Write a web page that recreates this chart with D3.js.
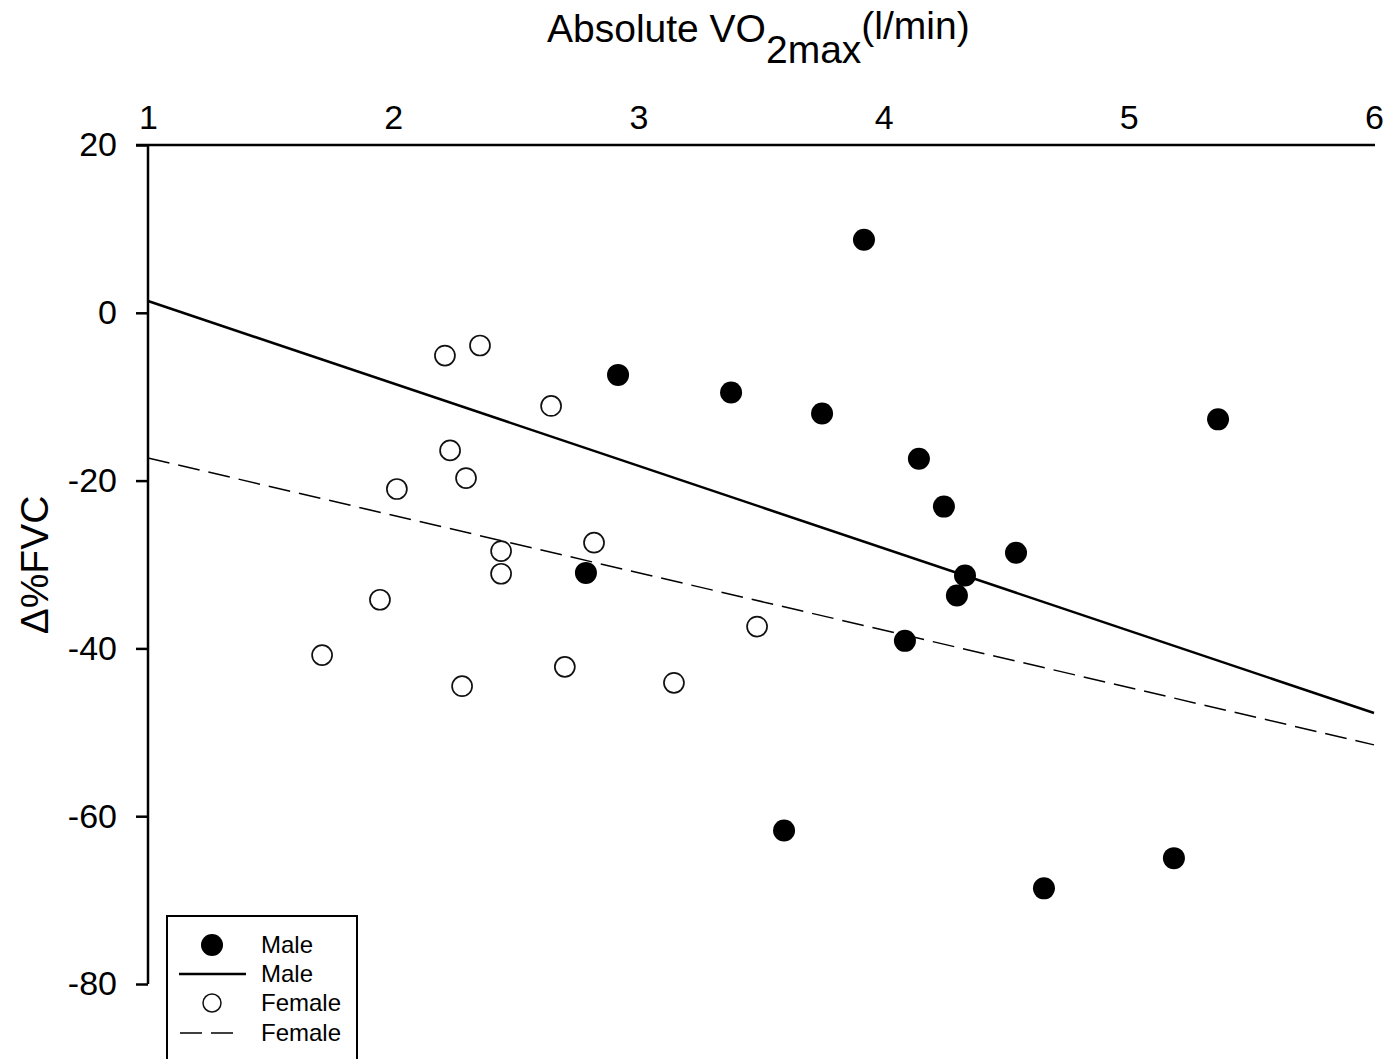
<!DOCTYPE html>
<html>
<head>
<meta charset="utf-8">
<script src="https://cdn.jsdelivr.net/npm/d3@7"></script>
<style>
  body { margin: 0; background: #fff; }
  svg { display: block; font-family: "Liberation Sans", Arial, sans-serif; }
</style>
</head>
<body>
<svg id="chart"></svg>
<script>
// data
const maleVO2 = [3.92, 2.917, 3.378, 3.749, 5.364, 4.144, 4.246, 4.54, 4.332, 4.299, 2.786, 4.087, 3.594, 5.184, 4.654];
const maleFVC = [8.7, -7.4, -9.5, -12.0, -12.7, -17.4, -23.1, -28.6, -31.3, -33.7, -31.0, -39.1, -61.7, -65.0, -68.6];
const femaleVO2 = [2.211, 2.354, 2.644, 2.232, 2.297, 2.015, 2.44, 2.44, 2.819, 1.946, 1.71, 2.281, 2.70, 3.145, 3.484];
const femaleFVC = [-5.1, -3.9, -11.1, -16.4, -19.7, -21.0, -28.4, -31.1, -27.4, -34.2, -40.8, -44.5, -42.2, -44.1, -37.4];
// regression lines (ends at x = 1 and x = 6)
const maleFitX = [1, 6];
const maleFitY = [1.4, -47.7];
const femaleFitX = [1, 6];
const femaleFitY = [-17.3, -51.5];
const xTicks = [1, 2, 3, 4, 5, 6];
const yTicks = [20, 0, -20, -40, -60, -80];

const W = 1389, H = 1059;
const FONT = '"Liberation Sans", Arial, sans-serif';
const svg = d3.select("#chart").attr("width", W).attr("height", H);

const x = d3.scaleLinear().domain([1, 6]).range([148, 1374]);
const y = d3.scaleLinear().domain([-80, 20]).range([984, 145]);

// y axis (left)
const yAxis = svg.append("g")
  .attr("transform", "translate(148,0)")
  .call(d3.axisLeft(y).tickValues(yTicks).tickSize(12).tickPadding(19).tickFormat(d => String(d)));
yAxis.select(".domain").attr("d", `M0,${y(20)}V${y(-80)}`);
yAxis.selectAll("path, line").attr("stroke", "#000").attr("stroke-width", 2.5);
yAxis.selectAll("text").attr("font-size", 34).attr("fill", "#000").style("font-family", FONT);

// x axis (top), no ticks
const xAxis = svg.append("g")
  .attr("transform", `translate(0,${y(20)})`)
  .call(d3.axisTop(x).tickValues(xTicks).tickSize(0).tickPadding(16).tickFormat(d => String(d)));
xAxis.select(".domain").attr("d", `M136,0H${x(6) + 1}`);
xAxis.selectAll("path").attr("stroke", "#000").attr("stroke-width", 2.5);
xAxis.selectAll("text").attr("font-size", 34).attr("fill", "#000").style("font-family", FONT);

// titles
const title = svg.append("text")
  .attr("x", 547).attr("y", 42)
  .attr("font-size", 39).attr("fill", "#000");
title.append("tspan").text("Absolute VO");
title.append("tspan").attr("dy", 21).text("2max");
title.append("tspan").attr("dy", -24).text("(l/min)");

svg.append("text")
  .attr("transform", "translate(48,565) rotate(-90)")
  .attr("text-anchor", "middle")
  .attr("font-size", 39).attr("fill", "#000")
  .text("Δ%FVC");

// regression lines
const line = d3.line().x(d => x(d[0])).y(d => y(d[1]));
svg.append("path")
  .datum(d3.zip(maleFitX, maleFitY))
  .attr("d", line)
  .attr("fill", "none").attr("stroke", "#000").attr("stroke-width", 2.5);
svg.append("path")
  .datum(d3.zip(femaleFitX, femaleFitY))
  .attr("d", line)
  .attr("fill", "none").attr("stroke", "#000").attr("stroke-width", 1.5)
  .attr("stroke-dasharray", "22,9");

// points
svg.append("g").selectAll("circle")
  .data(d3.zip(femaleVO2, femaleFVC))
  .join("circle")
  .attr("cx", d => x(d[0])).attr("cy", d => y(d[1]))
  .attr("r", 10).attr("fill", "#fff").attr("stroke", "#111").attr("stroke-width", 1.7);

svg.append("g").selectAll("circle")
  .data(d3.zip(maleVO2, maleFVC))
  .join("circle")
  .attr("cx", d => x(d[0])).attr("cy", d => y(d[1]))
  .attr("r", 11).attr("fill", "#000");

// legend
const legend = svg.append("g").attr("transform", "translate(167,916)");
legend.append("rect")
  .attr("width", 190).attr("height", 160)
  .attr("fill", "#fff").attr("stroke", "#000").attr("stroke-width", 2);
const legendLabels = ["Male", "Male", "Female", "Female"];
const rowY = [29, 58, 87, 117];
legend.append("circle").attr("cx", 45).attr("cy", rowY[0]).attr("r", 11).attr("fill", "#000");
legend.append("line").attr("x1", 12).attr("x2", 79).attr("y1", rowY[1]).attr("y2", rowY[1])
  .attr("stroke", "#000").attr("stroke-width", 2.5);
legend.append("circle").attr("cx", 45).attr("cy", rowY[2]).attr("r", 9)
  .attr("fill", "#fff").attr("stroke", "#111").attr("stroke-width", 1.5);
legend.append("line").attr("x1", 13).attr("x2", 73).attr("y1", rowY[3]).attr("y2", rowY[3])
  .attr("stroke", "#000").attr("stroke-width", 1.5).attr("stroke-dasharray", "22,9");
legend.selectAll("text.lab")
  .data(legendLabels)
  .join("text")
  .attr("class", "lab")
  .attr("x", 94).attr("y", (d, i) => rowY[i] + 8)
  .attr("font-size", 24).attr("fill", "#000")
  .text(d => d);
</script>
</body>
</html>
